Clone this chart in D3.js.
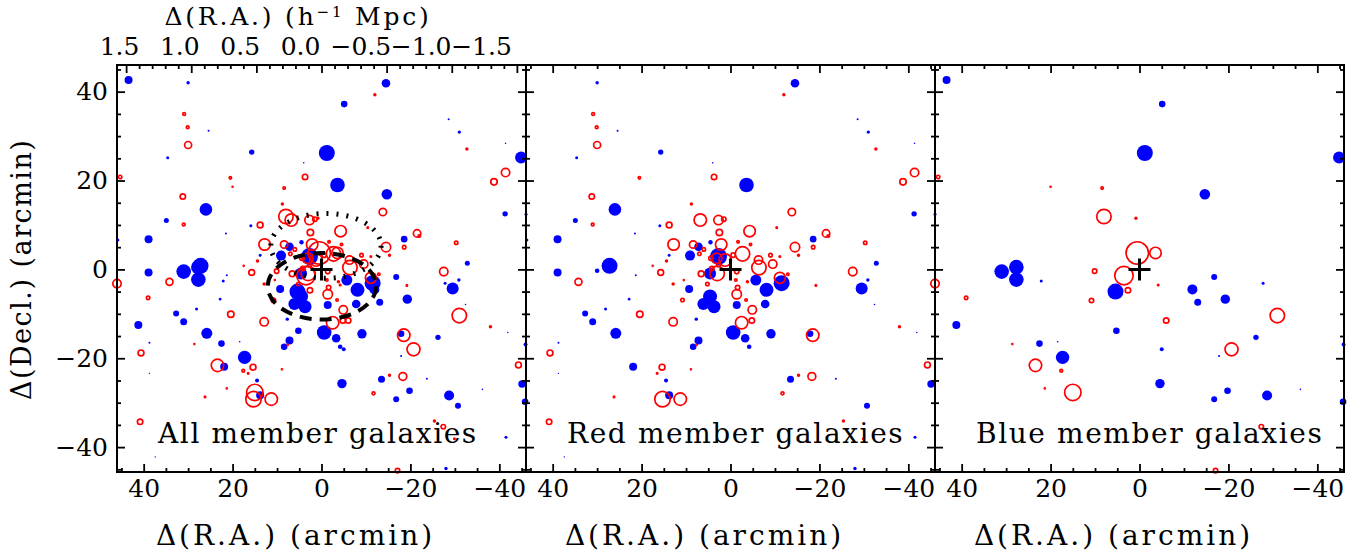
<!DOCTYPE html>
<html>
<head>
<meta charset="utf-8">
<script src="https://cdn.jsdelivr.net/npm/d3@7"></script>
<style>
  body { margin: 0; background: #fff; }
  svg { display: block; }
</style>
</head>
<body>
<div id="chart"></div>
<script>
// panel titles and tick values
const panelNames = ["All member galaxies", "Red member galaxies", "Blue member galaxies"];
const raTicks = [40, 20, 0, -20, -40];
const decTicks = [40, 20, 0, -20, -40];
const mpcTicks = [1.5, 1.0, 0.5, 0.0, -0.5, -1.0, -1.5];

// [dRA (arcmin), dDec (arcmin), delta]; delta > 0 red open circle, delta < 0 blue filled
const redMembers = [
  [30.0,42.0,-0.85],[-14.5,41.9,-2.15],[-12.0,39.3,0.85],[30.9,35.0,1.1],[30.1,32.0,1.1],
  [25.4,31.2,-0.5],[30.0,28.0,2.15],[34.6,25.1,-0.75],[15.7,26.4,-1.35],[4.0,24.0,-0.4],
  [-3.6,19.0,-3.65],[-28.6,33.8,-0.5],[-31.0,30.9,-0.85],[-32.7,27.1,0.85],[-41.4,28.4,-0.4],
  [-41.4,21.8,2.5],[-38.8,19.7,2.0],[20.5,20.6,1.0],[3.7,20.8,1.75],[31.2,16.4,1.75],
  [26.0,13.5,-3.15],[34.9,11.0,-1.25],[31.0,10.1,1.1],[15.9,9.8,-0.75],[21.5,8.1,-0.5],
  [8.8,14.7,0.85],[-13.8,12.9,2.25],[-10.4,9.4,0.75],[-21.5,8.1,2.25],[-22.0,7.5,1.0],
  [-41.3,12.5,-1.35],[-18.6,6.8,-1.65],[-18.6,5.0,1.25],[-30.3,6.0,1.25],[-32.8,1.4,-1.25],
  [38.9,6.8,-2.0],[27.2,0.8,-4.0],[6.8,11.1,3.5],[2.7,11.1,2.75],[1.5,11.3,1.5],
  [-4.3,8.6,3.25],[2.5,8.3,2.0],[12.8,5.6,3.25],[8.4,5.6,2.25],[7.2,5.1,-2.15],
  [4.5,6.1,-1.1],[2.1,5.6,3.25],[-1.7,6.2,1.0],[-4.5,5.6,1.0],[-14.5,5.0,2.75],
  [-15.3,3.2,0.85],[9.1,3.1,-2.5],[6.0,4.5,1.25],[14.4,1.9,0.85],[17.5,0.8,0.65],
  [-2.7,3.5,4.0],[-6.3,2.1,2.5],[-9.0,3.2,1.25],[-9.5,1.2,2.5],[-11.1,2.9,0.75],
  [-27.5,-0.5,2.5],[13.8,10.0,1.85],[7.0,3.5,1.25],[2.7,2.9,-4.25],[4.6,-0.9,-3.0],
  [3.1,2.5,3.0],[1.2,2.1,3.5],[3.0,-0.9,4.0],[-0.6,3.2,1.5],[4.4,2.5,1.5],
  [4.2,0.2,1.5],[2.7,1.0,1.25],[-1.4,-0.5,1.5],[6.6,-1.0,1.85],[5.2,-3.3,1.25],
  [9.3,-4.4,-2.0],[4.6,-6.1,-3.5],[6.1,-7.8,-3.0],[3.7,-8.4,-3.25],[-1.4,-8.0,-2.0],
  [-1.4,-5.6,2.75],[-1.6,-4.1,1.5],[-3.5,-6.9,1.0],[-1.2,-2.4,1.0],[-3.8,-2.8,0.85],
  [-5.7,-2.4,-2.75],[-8.1,-4.6,-3.5],[-11.1,-1.9,3.15],[-11.5,-3.1,-4.0],[-12.9,-1.1,1.0],
  [-6.4,0.4,4.0],[12.9,-3.3,0.85],[10.5,-2.4,0.65],[15.7,-0.7,1.85],[21.3,-1.3,-0.5],
  [13.8,3.2,-0.75],[-19.2,-3.6,0.75],[12.9,-11.8,2.5],[20.4,-10.1,2.0],[7.7,-11.2,-0.85],
  [-4.9,-9.1,2.5],[-4.8,-11.5,1.75],[-2.5,-12.0,3.5],[-7.8,-7.8,-2.15],[-0.6,-14.2,-3.65],
  [-3.3,-15.5,-2.15],[-9.1,-14.5,-2.35],[-18.5,-14.8,3.5],[-17.9,-14.5,-1.65],[7.2,-16.0,-2.0],
  [38.9,-0.7,-2.0],[34.2,-2.8,2.15],[30.0,-0.3,-1.15],[10.8,-6.9,1.25],[28.1,-8.9,-0.75],
  [32.7,-9.9,-1.5],[22.8,-6.7,-0.65],[31.0,-11.8,-1.75],[25.8,-14.4,-2.75],[8.4,-17.4,-1.65],
  [7.6,-17.0,0.65],[-4.2,-17.4,-1.15],[-29.5,-4.3,-3.0],[-30.9,-2.4,-0.85],[-32.4,-7.9,-0.4],
  [-38.0,-12.9,0.85],[-41.9,-14.2,-0.35],[-45.1,-25.8,-1.85],[-44.3,-21.5,1.85],[-13.5,-24.7,-1.75],
  [-15.3,-23.8,0.85],[-18.3,-24.1,2.35],[-23.7,-24.6,-0.5],[-11.7,-27.9,1.15],[-30.7,-30.7,-1.5],
  [-25.4,-34.1,0.85],[-29.9,-38.1,0.75],[-41.5,-37.8,-0.75],[-28.0,-44.8,-0.85],[15.3,-29.2,4.25],
  [11.3,-29.2,3.5],[13.8,-28.3,-2.0],[14.5,-25.0,-1.0],[15.4,-22.0,1.85],[16.5,-23.4,0.75],
  [21.9,-21.9,-2.0],[8.9,-22.5,0.5],[26.2,-28.7,0.75],[40.6,-18.8,1.85],[38.7,-16.5,-0.5],
  [38.7,-23.4,-0.35],[40.8,-34.3,1.75],[37.4,-42.2,-0.35],[-46.0,12.4,-0.75],[45.8,6.6,-0.75]
];

const blueMembers = [
  [43.4,42.6,-2.0],[-5.1,37.2,-1.65],[-1.2,26.2,-4.0],[-44.9,25.2,-3.0],[-14.7,16.9,-2.65],
  [20.0,18.6,0.5],[8.4,18.3,1.0],[8.0,11.9,4.0],[0.8,11.5,0.85],[0.5,3.7,6.0],
  [-3.6,3.7,3.25],[31.0,-0.5,-3.65],[27.7,0.5,-3.65],[27.7,-2.3,-3.65],[22.1,-2.6,-0.75],
  [10.1,-0.4,1.5],[3.5,-1.4,5.0],[5.4,-5.0,-4.0],[2.6,-4.7,1.75],[-6.0,-11.5,1.75],
  [-4.2,-3.5,0.75],[-11.9,-4.5,-2.5],[-16.8,-1.7,-1.5],[-27.8,-3.1,-0.75],[-13.1,-7.4,-1.75],
  [-19.3,-6.7,-2.35],[-31.0,-10.4,4.0],[39.0,-6.4,1.25],[41.2,-12.5,-2.0],[5.2,-13.8,-1.65],
  [10.8,-7.0,1.5],[28.6,-16.8,0.65],[22.5,-16.7,-1.65],[18.4,-16.3,-0.4],[17.3,-19.8,-3.35],
  [23.4,-21.6,3.5],[17.6,-22.8,1.1],[21.3,-26.8,0.65],[15.0,-27.7,4.5],[-5.0,-18.0,-1.0],
  [-4.6,-25.7,-2.35],[-20.7,-18.0,3.65],[-26.2,-15.3,-1.35],[-17.9,-19.5,-0.5],[-19.8,-27.3,-1.65],
  [-16.8,-29.2,-1.5],[-28.7,-28.4,-2.5],[-36.2,-27.0,-0.4],[-45.8,-29.8,-1.65],[-45.9,-16.9,-1.0],
  [-27.4,-35.4,1.5],[-17.1,-45.3,1.5],[45.3,20.8,1.25],[46.0,-3.2,2.5]
];

// overlays on the first panel: [centre dRA, centre dDec, semi-axis RA, semi-axis Dec]
const dottedEllipse = [-1.0, 5.3, 12.4, 7.3];
const dashedEllipse = [-0.1, -3.8, 12.2, 7.5];

const panelMembers = [redMembers.concat(blueMembers), redMembers, blueMembers];

const width = 1361, height = 559;
const plotTop = 65, plotW = 409, plotH = 407;
const panelLeft = [117, 526, 935];
const font = "'DejaVu Serif', serif";

const x = d3.scaleLinear().domain([46, -46]).range([0, plotW]);
const y = d3.scaleLinear().domain([46, -45.6]).range([0, plotH]);
const rScale = d3.scaleLinear().domain([0, 6]).range([0, 12]);
// 1 h^-1 Mpc = 29.3 arcmin
const mpc = d3.scaleLinear().domain([46 / 29.3, -46 / 29.3]).range([0, plotW]);
const mpcLabel = d3.scaleLinear().domain([1.5, -1.5]).range([2, 364]);

const svg = d3.select("#chart").append("svg")
  .attr("width", width)
  .attr("height", height)
  .style("font-family", font);

const minorArc = d3.range(-45, 46, 5).filter(v => v % 20 !== 0);
const minorMpc = d3.range(-15, 16).map(v => v / 10).filter(v => Math.abs(v * 10) % 5 !== 0);

function styleAxis(g, fs) {
  g.select(".domain").remove();
  g.selectAll("line").attr("stroke", "#000").attr("stroke-width", 1.8);
  g.selectAll("text").attr("font-family", font).attr("font-size", fs).attr("fill", "#000");
}

panelNames.forEach((name, p) => {
  const g = svg.append("g").attr("transform", `translate(${panelLeft[p]},${plotTop})`);

  // points: blue filled first, red open circles above
  const pts = panelMembers[p].slice().sort((a, b) => a[2] - b[2]);
  g.append("g").selectAll("circle")
    .data(pts.filter(d => d[2] < 0))
    .enter().append("circle")
    .attr("cx", d => x(d[0]))
    .attr("cy", d => y(d[1]))
    .attr("r", d => rScale(-d[2]))
    .attr("fill", "#0000ff");

  g.append("g").selectAll("circle")
    .data(pts.filter(d => d[2] > 0))
    .enter().append("circle")
    .attr("cx", d => x(d[0]))
    .attr("cy", d => y(d[1]))
    .attr("r", d => Math.max(rScale(d[2]) - 0.8, 0.5))
    .attr("fill", d => rScale(d[2]) < 2 ? "#ff0000" : "none")
    .attr("stroke", "#ff0000")
    .attr("stroke-width", 1.7);

  if (p === 0) {
    const ell = (e, dash, sw) => g.append("ellipse")
      .attr("cx", x(e[0])).attr("cy", y(e[1]))
      .attr("rx", x(0) - x(e[2])).attr("ry", y(-e[3]) - y(0))
      .attr("fill", "none").attr("stroke", "#000")
      .attr("stroke-width", sw).attr("stroke-dasharray", dash);
    ell(dottedEllipse, "2,8", 5);
    ell(dashedEllipse, "12,8", 4);
  }

  // centre cross
  g.append("path")
    .attr("d", `M${x(0) - 11},${y(0)}H${x(0) + 11}M${x(0)},${y(0) - 11}V${y(0) + 11}`)
    .attr("stroke", "#000").attr("stroke-width", 3).attr("fill", "none");

  // bottom axis
  const bMaj = g.append("g").attr("transform", `translate(0,${plotH})`)
    .call(d3.axisBottom(x).tickValues(raTicks).tickSize(-8).tickPadding(7));
  styleAxis(bMaj, 25);
  const bMin = g.append("g").attr("transform", `translate(0,${plotH})`)
    .call(d3.axisBottom(x).tickValues(minorArc).tickSize(-4).tickFormat(""));
  styleAxis(bMin, 25);

  // top axis
  if (p === 0) {
    styleAxis(g.append("g").call(d3.axisTop(mpc).tickValues(mpcTicks).tickSize(-8).tickFormat("")), 25);
    styleAxis(g.append("g").call(d3.axisTop(mpc).tickValues(minorMpc).tickSize(-4).tickFormat("")), 25);
    const lab = g.append("g")
      .call(d3.axisTop(mpcLabel).tickValues(mpcTicks).tickSize(0).tickPadding(10).tickFormat(d3.format(".1f")));
    styleAxis(lab, 25);
  } else {
    styleAxis(g.append("g").call(d3.axisTop(x).tickValues(raTicks).tickSize(-8).tickFormat("")), 25);
    styleAxis(g.append("g").call(d3.axisTop(x).tickValues(minorArc).tickSize(-4).tickFormat("")), 25);
  }

  // left and right axes
  const lMaj = g.append("g")
    .call(d3.axisLeft(y).tickValues(decTicks).tickSize(-8).tickPadding(9)
      .tickFormat(p === 0 ? d3.format("d") : ""));
  styleAxis(lMaj, 25);
  styleAxis(g.append("g").call(d3.axisLeft(y).tickValues(minorArc).tickSize(-4).tickFormat("")), 25);
  styleAxis(g.append("g").attr("transform", `translate(${plotW},0)`)
    .call(d3.axisRight(y).tickValues(decTicks).tickSize(-8).tickFormat("")), 25);
  styleAxis(g.append("g").attr("transform", `translate(${plotW},0)`)
    .call(d3.axisRight(y).tickValues(minorArc).tickSize(-4).tickFormat("")), 25);

  g.append("rect")
    .attr("width", plotW).attr("height", plotH)
    .attr("fill", "none").attr("stroke", "#000").attr("stroke-width", 2);

  // panel label
  g.append("text")
    .attr("x", 41).attr("y", 378)
    .attr("font-size", 28)
    .attr("letter-spacing", 1.6)
    .text(name);

  // x title
  g.append("text")
    .attr("x", x(0) - 26).attr("y", 480)
    .attr("text-anchor", "middle")
    .attr("font-size", 28)
    .attr("letter-spacing", 3)
    .text("Δ(R.A.) (arcmin)");
});

// top title
const tt = svg.append("text")
  .attr("x", 298).attr("y", 25)
  .attr("text-anchor", "middle")
  .attr("font-size", 25)
  .attr("letter-spacing", 2.8);
tt.append("tspan").text("Δ(R.A.) (h");
tt.append("tspan").attr("dy", -8).attr("font-size", 15).text("−1");
tt.append("tspan").attr("dy", 8).text(" Mpc)");

// y title
svg.append("text")
  .attr("transform", `translate(31,${plotTop + y(0)}) rotate(-90)`)
  .attr("text-anchor", "middle")
  .attr("font-size", 27)
  .attr("letter-spacing", 1.5)
  .text("Δ(Decl.) (arcmin)");
</script>
</body>
</html>
